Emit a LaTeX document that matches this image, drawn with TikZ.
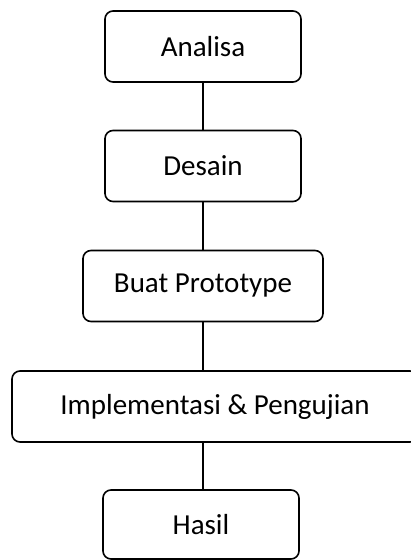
\documentclass[tikz,border=0pt]{standalone}
\usepackage{fontspec}
\setmainfont{Carlito}
\usepackage{tikz}

\begin{document}
\begin{tikzpicture}[x=1pt,y=-1pt,
    tahap/.style={draw,rounded corners=8pt,line width=1.6pt,inner sep=0pt,
      minimum width=196pt,minimum height=71pt,font=\fontsize{29}{34}\selectfont}]
    \useasboundingbox (0,0) rectangle (411,560);
    \node[tahap] (analisa) at (203,46.5) {Analisa};
    \node[tahap] (desain) at (203,166) {Desain};
    \node[tahap,minimum width=240pt] (prototype) at (203,286) {Buat Prototype};
    \node[tahap,minimum width=406pt] (implementasi) at (215,406.5) {Implementasi \& Pengujian};
    \node[tahap,minimum height=69pt] (hasil) at (201,524.5) {Hasil};
    \draw[line width=1.4pt] (analisa) -- (desain);
    \draw[line width=1.4pt] (desain) -- (prototype);
    \draw[line width=1.4pt] (prototype) -- (prototype |- implementasi.north);
    \draw[line width=1.4pt] (implementasi.south -| prototype) -- (hasil.north -| prototype);
  \end{tikzpicture}
\end{document}
